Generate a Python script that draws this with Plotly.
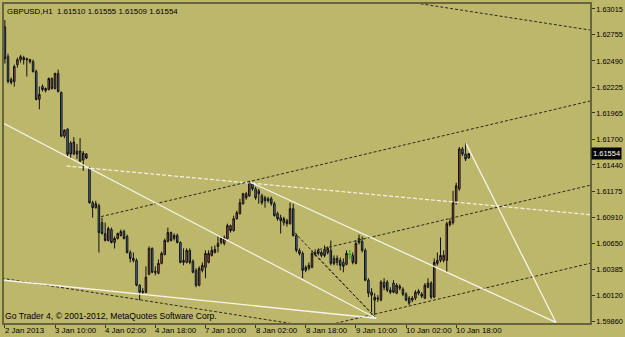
import plotly.graph_objects as go

# ---------------- data (GBPUSD, H1) ----------------
open_ = [1.62834,1.62533,1.62303,1.62283,1.62453,1.62503,1.62523,1.62513,1.62503,1.62483,
         1.62383,1.62102,1.62232,1.62212,1.62202,1.62313,1.62212,1.62363,1.62172,1.61731,
         1.61801,1.61661,1.61550,1.61581,1.61581,1.61490,1.61550,1.61410,1.61059,1.61009,
         1.61029,1.60858,1.60748,1.60678,1.60788,1.60658,1.60698,1.60728,1.60768,1.60718,
         1.60557,1.60497,1.60477,1.60226,1.60166,1.60156,1.60337,1.60598,1.60367,1.60347,
         1.60447,1.60537,1.60668,1.60758,1.60698,1.60728,1.60658,1.60477,1.60457,1.60578,
         1.60467,1.60377,1.60226,1.60377,1.60407,1.60457,1.60527,1.60557,1.60648,1.60658,
         1.60648,1.60698,1.60828,1.60778,1.60898,1.60949,1.61049,1.61149,1.61129,1.61250,
         1.61199,1.61179,1.61129,1.61109,1.61099,1.61099,1.61049,1.60949,1.60908,1.60858,
         1.60878,1.60848,1.60999,1.60728,1.60578,1.60547,1.60377,1.60397,1.60407,1.60557,
         1.60578,1.60527,1.60588,1.60557,1.60578,1.60497,1.60457,1.60477,1.60457,1.60437,
         1.60537,1.60527,1.60447,1.60698,1.60668,1.60578,1.60277,1.60156,1.60106,1.60086,
         1.60076,1.60257,1.60257,1.60176,1.60247,1.60146,1.60216,1.60186,1.60136,1.60096,
         1.60076,1.60096,1.60166,1.60136,1.60096,1.60206,1.60247,1.60106,1.60477,1.60477,
         1.60477,1.60477,1.60838,1.60858,1.61059,1.61200,1.61601,1.61550,1.61510]
high = [1.62904,1.62563,1.62323,1.62453,1.62523,1.62553,1.62543,1.62523,1.62513,1.62503,
        1.62403,1.62232,1.62253,1.62222,1.62323,1.62323,1.62373,1.62403,1.62182,1.61801,
        1.61811,1.61681,1.61721,1.61651,1.61711,1.61581,1.61560,1.61420,1.61079,1.61079,
        1.61049,1.60908,1.60858,1.60818,1.60808,1.60718,1.60758,1.60788,1.60788,1.60738,
        1.60578,1.60557,1.60497,1.60236,1.60196,1.60417,1.60618,1.60608,1.60417,1.60487,
        1.60567,1.60698,1.60808,1.60768,1.60748,1.60748,1.60668,1.60598,1.60598,1.60598,
        1.60487,1.60397,1.60417,1.60457,1.60578,1.60578,1.60618,1.60628,1.60718,1.60718,
        1.60728,1.60848,1.60838,1.60928,1.60979,1.61099,1.61159,1.61169,1.61280,1.61270,
        1.61219,1.61199,1.61149,1.61129,1.61119,1.61119,1.61069,1.60969,1.60938,1.60918,
        1.60898,1.61059,1.61049,1.60748,1.60598,1.60567,1.60427,1.60457,1.60578,1.60588,
        1.60598,1.60578,1.60628,1.60618,1.60678,1.60527,1.60527,1.60507,1.60497,1.60578,
        1.60578,1.60557,1.60678,1.60738,1.60718,1.60598,1.60297,1.60196,1.60146,1.60126,
        1.60277,1.60297,1.60277,1.60206,1.60277,1.60247,1.60236,1.60206,1.60156,1.60116,
        1.60116,1.60176,1.60186,1.60156,1.60247,1.60297,1.60267,1.60497,1.60557,1.60708,
        1.60578,1.60868,1.60898,1.61179,1.61260,1.61621,1.61621,1.61661,1.61555]
low = [1.62463,1.62263,1.62253,1.62232,1.62423,1.62473,1.62453,1.62333,1.62463,1.62373,
       1.62092,1.62002,1.62182,1.62172,1.62192,1.62202,1.62202,1.62172,1.61721,1.61711,
       1.61530,1.61500,1.61540,1.61500,1.61470,1.61380,1.61500,1.61049,1.60908,1.60999,
       1.60557,1.60738,1.60668,1.60668,1.60648,1.60597,1.60688,1.60718,1.60688,1.60547,
       1.60457,1.60457,1.60216,1.60076,1.60136,1.60146,1.60327,1.60347,1.60327,1.60337,
       1.60437,1.60527,1.60658,1.60668,1.60678,1.60648,1.60447,1.60427,1.60447,1.60437,
       1.60347,1.60206,1.60216,1.60357,1.60297,1.60447,1.60517,1.60547,1.60557,1.60638,
       1.60628,1.60688,1.60758,1.60768,1.60888,1.60939,1.61039,1.61089,1.61119,1.61179,
       1.61089,1.61049,1.61039,1.61009,1.61059,1.61029,1.60919,1.60878,1.60748,1.60828,
       1.60818,1.60838,1.60718,1.60557,1.60527,1.60297,1.60357,1.60377,1.60397,1.60517,
       1.60527,1.60507,1.60507,1.60537,1.60427,1.60427,1.60427,1.60377,1.60357,1.60427,
       1.60497,1.60437,1.60437,1.60638,1.60557,1.60267,1.60106,1.59956,1.59926,1.60056,
       1.60066,1.60176,1.60156,1.60136,1.60146,1.60136,1.60176,1.60116,1.60066,1.60026,
       1.60056,1.60076,1.60126,1.60096,1.60086,1.60196,1.60086,1.60096,1.60427,1.60457,
       1.60457,1.60357,1.60818,1.60838,1.61039,1.61179,1.61530,1.61480,1.61509]
close = [1.62513,1.62283,1.62273,1.62433,1.62503,1.62533,1.62503,1.62503,1.62483,1.62383,
         1.62102,1.62152,1.62202,1.62192,1.62313,1.62212,1.62363,1.62182,1.61731,1.61791,
         1.61550,1.61550,1.61671,1.61550,1.61480,1.61560,1.61510,1.61059,1.61009,1.61049,
         1.60758,1.60748,1.60678,1.60798,1.60658,1.60698,1.60748,1.60768,1.60698,1.60557,
         1.60497,1.60477,1.60226,1.60156,1.60156,1.60307,1.60598,1.60357,1.60357,1.60447,
         1.60547,1.60678,1.60758,1.60678,1.60728,1.60658,1.60457,1.60457,1.60578,1.60457,
         1.60357,1.60226,1.60397,1.60427,1.60547,1.60547,1.60578,1.60588,1.60618,1.60698,
         1.60708,1.60828,1.60778,1.60898,1.60959,1.61059,1.61149,1.61109,1.61260,1.61199,
         1.61109,1.61149,1.61059,1.61079,1.61079,1.61049,1.60929,1.60898,1.60878,1.60898,
         1.60848,1.60999,1.60728,1.60578,1.60547,1.60377,1.60407,1.60427,1.60547,1.60537,
         1.60547,1.60557,1.60527,1.60598,1.60447,1.60447,1.60497,1.60427,1.60417,1.60547,
         1.60537,1.60457,1.60648,1.60658,1.60578,1.60277,1.60146,1.60126,1.60076,1.60096,
         1.60257,1.60206,1.60176,1.60156,1.60156,1.60226,1.60196,1.60136,1.60076,1.60046,
         1.60096,1.60156,1.60146,1.60116,1.60226,1.60247,1.60106,1.60457,1.60447,1.60527,
         1.60527,1.60848,1.60868,1.61059,1.61230,1.61601,1.61550,1.61500,1.61554]
bars = list(range(len(close)))

date_labels = ["2 Jan 2013", "3 Jan 10:00", "4 Jan 02:00", "4 Jan 18:00", "7 Jan 10:00",
               "8 Jan 02:00", "8 Jan 18:00", "9 Jan 10:00", "10 Jan 02:00", "10 Jan 18:00"]
date_label_bars = [0, 16, 32, 48, 64, 80, 96, 112, 128, 144]

price_ticks = [1.63015, 1.62755, 1.62490, 1.62225, 1.61965, 1.61700, 1.61440,
               1.61175, 1.60910, 1.60650, 1.60385, 1.60120, 1.59860]

# trend-line objects: (bar, price) anchor pairs
white_solid_lines = [
    [(-0.3, 1.61858), (118.5, 1.59893)],
    [(-1.0, 1.60279), (118.5, 1.59893)],
    [(78.4, 1.61265), (175.8, 1.59852)],
    [(147.1, 1.61658), (175.8, 1.59852)],
]
white_dashed_lines = [
    [(19.65, 1.61430), (190.0, 1.60929)],
]
black_dotted_lines = [
    [(120.0, 1.63129), (190.0, 1.62786)],
    [(30.7, 1.60919), (190.0, 1.62110)],
    [(100.3, 1.60587), (190.0, 1.61260)],
    [(104.0, 1.59830), (190.0, 1.60472)],
    [(-1.0, 1.60297), (95.0, 1.59822)],
    [(92.4, 1.60758), (118.5, 1.59893)],
    [(98.8, 1.60537), (118.5, 1.59893)],
]

symbol_title = "GBPUSD,H1"
copyright_text = "Go Trader 4, \u00a9 2001-2012, MetaQuotes Software Corp."

# ---------------- figure ----------------
BG = "#BDB76B"
BULL = "#B4534A"
BEAR = "#4A7EBE"
FRAME = "#66663E"
FONT = "Liberation Sans"

fig = go.Figure()

def add_lines(lines, color, dash, width):
    for seg in lines:
        fig.add_trace(go.Scatter(
            x=[p[0] for p in seg], y=[p[1] for p in seg], mode="lines",
            line=dict(color=color, width=width, dash=dash),
            hoverinfo="skip", showlegend=False))

add_lines(white_dashed_lines, "#F4F2E6", "4px,2px", 1.2)
add_lines(black_dotted_lines, "#2A2A20", "3px,2px", 1)
add_lines(white_solid_lines, "#F6F4EA", "solid", 1.3)

fig.add_trace(go.Candlestick(
    x=bars, open=open_, high=high, low=low, close=close,
    increasing=dict(line=dict(color="#111111", width=1), fillcolor=BULL),
    decreasing=dict(line=dict(color="#111111", width=1), fillcolor=BEAR),
    whiskerwidth=0, showlegend=False, hoverinfo="skip"))

# doji candles are drawn in lime by the terminal
doji = [i for i in bars if open_[i] == close[i]]
for i in doji:
    fig.add_trace(go.Scatter(x=[i, i], y=[low[i], high[i]], mode="lines",
                             line=dict(color="#00E000", width=1.2),
                             hoverinfo="skip", showlegend=False))

annotations = []
last = close[-1]
annotations.append(dict(
    xref="paper", yref="paper", x=0, y=1, xanchor="left", yanchor="top",
    xshift=1, yshift=-1, showarrow=False,
    text=f"{symbol_title}  {open_[-1]:.5f} {high[-1]:.5f} {low[-1]:.5f} {close[-1]:.5f}",
    font=dict(family=FONT, size=7.9, color="black")))
annotations.append(dict(
    xref="paper", yref="paper", x=0, y=0, xanchor="left", yanchor="bottom",
    xshift=-1, yshift=0, showarrow=False, text=copyright_text,
    font=dict(family=FONT, size=8.6, color="black")))
for b, lab in zip(date_label_bars, date_labels):
    annotations.append(dict(
        xref="x", yref="paper", x=b, y=0, xanchor="left", yanchor="top",
        xshift=-2, yshift=-1, showarrow=False, text=lab,
        font=dict(family=FONT, size=7.9, color="black")))
annotations.append(dict(
    xref="paper", yref="y", x=1, y=last, xanchor="left", yanchor="middle",
    xshift=1, showarrow=False, text=f"{last:.5f}", bgcolor="black",
    borderpad=1, font=dict(family=FONT, size=7.5, color="white")))

fig.update_layout(
    width=625, height=337,
    margin=dict(l=2, r=32, t=2, b=14),
    paper_bgcolor=BG, plot_bgcolor=BG,
    boxgap=0.3,
    showlegend=False,
    annotations=annotations,
    xaxis=dict(range=[-0.28, 186.7], rangeslider=dict(visible=False),
               showgrid=False, zeroline=False, showline=True, mirror=True,
               linecolor=FRAME, linewidth=1.5,
               tickmode="array", tickvals=date_label_bars, ticktext=[""] * len(date_label_bars),
               ticks="outside", ticklen=3, tickcolor="#333"),
    yaxis=dict(range=[1.59845, 1.63065], side="right",
               showgrid=False, zeroline=False, showline=True, mirror=True,
               linecolor=FRAME, linewidth=1.5,
               tickmode="array", tickvals=price_ticks,
               ticktext=[f"{v:.5f}" for v in price_ticks],
               ticks="outside", ticklen=3, tickcolor="#333",
               tickfont=dict(family=FONT, size=7.4, color="black")),
)

fig.write_html("out.html")
